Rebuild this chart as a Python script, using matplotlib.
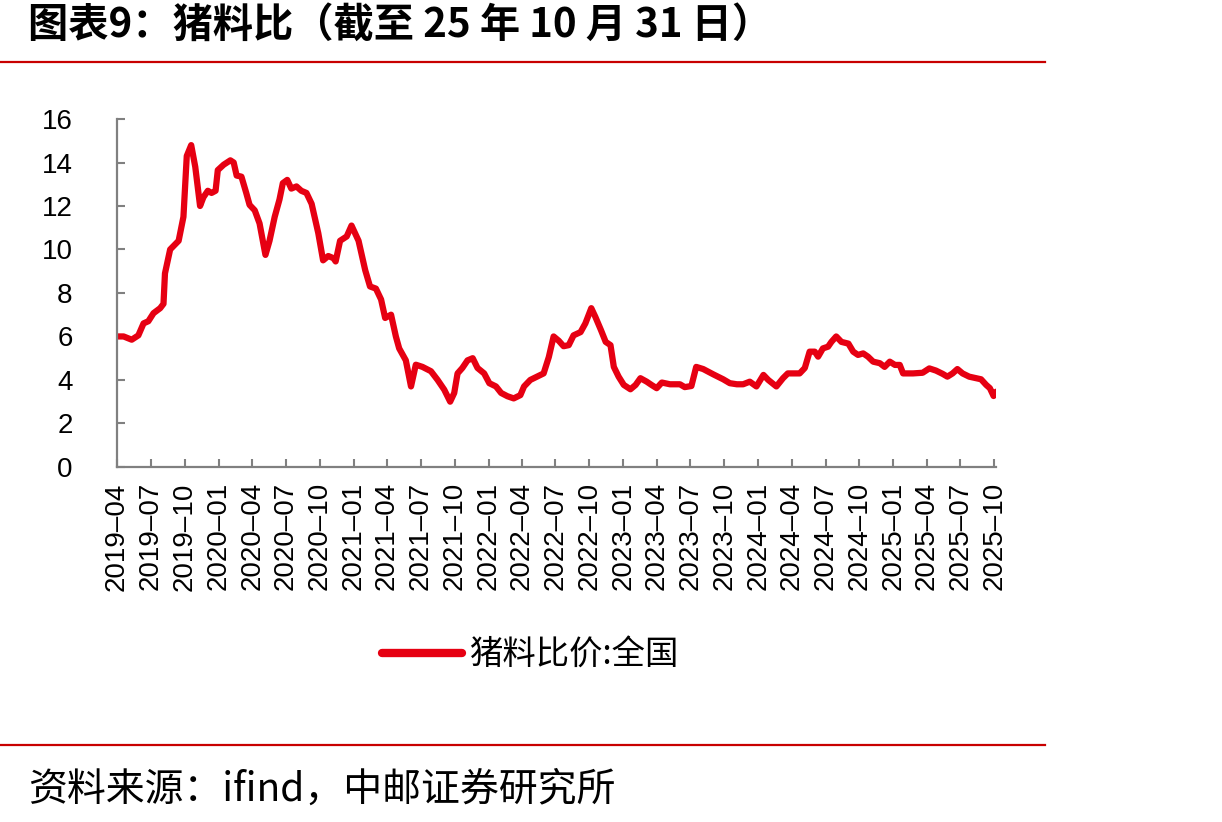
import matplotlib
matplotlib.use('Agg')
import matplotlib.pyplot as plt
from matplotlib.lines import Line2D
import pandas as pd

plt.rcParams['font.family'] = ['Liberation Sans', 'Noto Sans CJK SC', 'DejaVu Sans']

title = '图表9：猪料比（截至 25 年 10 月 31 日）'
source = '资料来源：ifind，中邮证券研究所'
series_name = '猪料比价:全国'

dates = [
    '2019-04-01', '2019-04-19', '2019-05-11', '2019-05-29', '2019-06-12', '2019-06-25',
    '2019-07-09', '2019-07-27', '2019-08-05', '2019-08-09', '2019-08-23', '2019-09-15',
    '2019-09-28', '2019-10-07', '2019-10-19', '2019-10-30', '2019-11-12', '2019-11-21',
    '2019-12-03', '2019-12-13', '2019-12-24', '2019-12-30', '2020-01-15', '2020-02-02',
    '2020-02-11', '2020-02-19', '2020-03-03', '2020-03-16', '2020-03-25', '2020-04-08',
    '2020-04-21', '2020-05-07', '2020-05-18', '2020-06-01', '2020-06-14', '2020-06-23',
    '2020-07-05', '2020-07-16', '2020-07-30', '2020-08-12', '2020-08-26', '2020-09-09',
    '2020-09-27', '2020-10-10', '2020-10-24', '2020-11-07', '2020-11-13', '2020-11-25',
    '2020-12-13', '2020-12-26', '2021-01-14', '2021-02-01', '2021-02-14', '2021-03-02',
    '2021-03-16', '2021-03-27', '2021-04-12', '2021-04-25', '2021-05-04', '2021-05-22',
    '2021-06-05', '2021-06-18', '2021-07-06', '2021-07-29', '2021-08-16', '2021-09-03',
    '2021-09-19', '2021-09-30', '2021-10-09', '2021-10-22', '2021-11-05', '2021-11-19',
    '2021-12-02', '2021-12-20', '2022-01-03', '2022-01-21', '2022-02-04', '2022-02-21',
    '2022-03-10', '2022-03-28', '2022-04-07', '2022-04-24', '2022-05-12', '2022-05-30',
    '2022-06-13', '2022-06-26', '2022-07-10', '2022-07-23', '2022-08-06', '2022-08-19',
    '2022-09-07', '2022-09-20', '2022-10-06', '2022-10-17', '2022-11-01', '2022-11-14',
    '2022-11-27', '2022-12-06', '2022-12-19', '2023-01-02', '2023-01-20', '2023-02-03',
    '2023-02-16', '2023-03-05', '2023-03-18', '2023-04-01', '2023-04-15', '2023-05-07',
    '2023-06-03', '2023-06-16', '2023-07-04', '2023-07-17', '2023-08-05', '2023-09-02',
    '2023-09-28', '2023-10-16', '2023-11-04', '2023-11-21', '2023-12-09', '2023-12-27',
    '2024-01-15', '2024-01-28', '2024-02-19', '2024-03-08', '2024-03-21', '2024-04-22',
    '2024-05-06', '2024-05-19', '2024-06-02', '2024-06-11', '2024-06-24', '2024-07-08',
    '2024-07-17', '2024-07-30', '2024-08-13', '2024-09-01', '2024-09-14', '2024-09-27',
    '2024-10-11', '2024-10-24', '2024-11-07', '2024-11-25', '2024-12-08', '2024-12-22',
    '2025-01-05', '2025-01-18', '2025-01-27', '2025-02-23', '2025-03-21', '2025-04-08',
    '2025-04-26', '2025-05-14', '2025-05-27', '2025-06-10', '2025-06-23', '2025-07-07',
    '2025-07-25', '2025-08-12', '2025-08-26', '2025-09-09', '2025-09-19', '2025-09-29',
    '2025-10-06',
]
values = [
    6.0, 6.0, 5.85, 6.05, 6.6, 6.7,
    7.07, 7.3, 7.5, 8.9, 10.0, 10.4,
    11.5, 14.3, 14.8, 13.8, 12.0, 12.4,
    12.7, 12.6, 12.7, 13.65, 13.9, 14.1,
    14.0, 13.4, 13.35, 12.6, 12.05, 11.8,
    11.2, 9.75, 10.4, 11.5, 12.3, 13.05,
    13.2, 12.8, 12.9, 12.7, 12.6, 12.1,
    10.75, 9.5, 9.7, 9.6, 9.45, 10.4,
    10.6, 11.1, 10.4, 9.05, 8.3, 8.2,
    7.7, 6.85, 7.0, 6.0, 5.45, 4.9,
    3.7, 4.7, 4.6, 4.4, 4.0, 3.55,
    3.0, 3.4, 4.3, 4.55, 4.9, 5.0,
    4.55, 4.3, 3.85, 3.7, 3.4, 3.25,
    3.15, 3.3, 3.7, 4.0, 4.15, 4.3,
    5.05, 6.0, 5.8, 5.55, 5.6, 6.05,
    6.2, 6.6, 7.3, 6.9, 6.3, 5.75,
    5.6, 4.6, 4.15, 3.77, 3.57, 3.77,
    4.08, 3.92, 3.77, 3.62, 3.88, 3.8,
    3.8, 3.67, 3.72, 4.6, 4.5, 4.25,
    4.03, 3.85, 3.8, 3.8, 3.92, 3.7,
    4.23, 4.0, 3.7, 4.08, 4.3, 4.3,
    4.55, 5.3, 5.3, 5.07, 5.45, 5.53,
    5.75, 6.0, 5.75, 5.67, 5.3, 5.15,
    5.22, 5.07, 4.84, 4.77, 4.6, 4.84,
    4.69, 4.69, 4.3, 4.3, 4.33, 4.53,
    4.43, 4.28, 4.15, 4.3, 4.5, 4.3,
    4.15, 4.08, 4.03, 3.77, 3.62, 3.26,
    3.46,
]
x = pd.to_datetime(dates)

red = '#e60012'
gray = '#808080'
rule_red = '#c80000'

fig = plt.figure(figsize=(12.22, 8.22), dpi=100)
ax = fig.add_axes([0.0957, 0.432, 0.7195, 0.4232])

ax.plot(x, values, color=red, lw=4.5, solid_capstyle='round', solid_joinstyle='round')

ax.set_ylim(0, 16)
ax.set_yticks(range(0, 17, 2))
ax.set_xlim(x[0], x[-1])
qticks = pd.date_range('2019-04-01', '2025-10-01', freq='3MS')
ax.set_xticks(qticks)
ax.set_xticklabels([d.strftime('%Y–%m') for d in qticks], rotation=90, va='top', ha='center')

for s in ['top', 'right']:
    ax.spines[s].set_visible(False)
for s in ['left', 'bottom']:
    ax.spines[s].set_color(gray)
    ax.spines[s].set_linewidth(1.6)
ax.tick_params(axis='both', direction='in', length=6, width=1.5, color=gray, labelsize=20)
ax.tick_params(axis='y', pad=32)
ax.tick_params(axis='x', pad=11)

# title and source
fig.text(0.023, 0.969, title, fontsize=29, fontweight='bold', va='center', ha='left',
         family=['Noto Sans CJK SC', 'DejaVu Sans'])
fig.add_artist(Line2D([0, 0.855], [0.925, 0.925], color=rule_red, lw=1.6))
fig.add_artist(Line2D([0, 0.855], [0.094, 0.094], color=rule_red, lw=1.6))
fig.text(0.023, 0.039, source, fontsize=28, va='center', ha='left',
         family=['Noto Sans CJK SC', 'DejaVu Sans'])

handle = Line2D([], [], color=red, lw=6, solid_capstyle='round')
fig.legend([handle], [series_name], loc='center', bbox_to_anchor=(0.434, 0.203),
           frameon=False, handlelength=2.4, handletextpad=0.2,
           prop={'family': ['Noto Sans CJK SC'], 'size': 24})

fig.savefig('out.png', dpi=100)
